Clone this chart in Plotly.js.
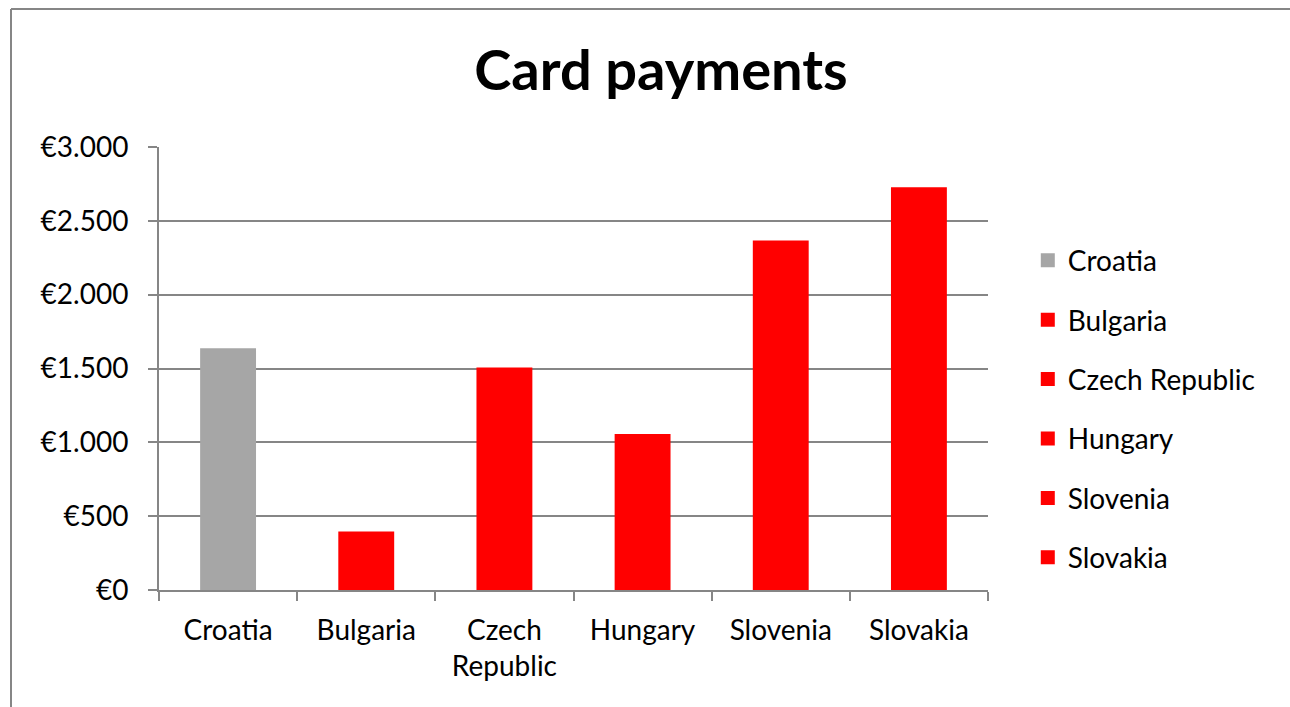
<!DOCTYPE html>
<html>
<head>
<meta charset="utf-8">
<script src="https://cdn.plot.ly/plotly-3.0.1.min.js"></script>
<style>html,body{margin:0;padding:0;background:#fff;}#chart{width:1290px;height:707px;}</style>
</head>
<body>
<div id="chart"></div>
<script>
const categories = ["Croatia", "Bulgaria", "Czech Republic", "Hungary", "Slovenia", "Slovakia"];
const tickLabels = ["Croatia", "Bulgaria", "Czech<br>Republic", "Hungary", "Slovenia", "Slovakia"];
const values = [1630, 390, 1500, 1050, 2360, 2720];
const colors = ["#a6a6a6", "#ff0000", "#ff0000", "#ff0000", "#ff0000", "#ff0000"];
const yTicks = [0, 500, 1000, 1500, 2000, 2500, 3000];
const yTickLabels = ["€0", "€500", "€1.000", "€1.500", "€2.000", "€2.500", "€3.000"];

const FONT = "Lato, 'Noto Sans', sans-serif";
const traces = categories.map((c, i) => ({
  type: "bar",
  name: c,
  x: [c],
  y: [values[i]],
  width: 0.39,
  legendgroup: "g" + i,
  marker: {color: colors[i], line: {color: colors[i], width: 2}},
  hoverinfo: "x+y"
}));

const plotW = 829, plotH = 443;
const layout = {
  width: 1290, height: 707,
  margin: {l: 159, r: 302, t: 147, b: 117},
  paper_bgcolor: "#fff", plot_bgcolor: "#fff",
  separators: ",.",
  barmode: "overlay",
  font: {family: FONT, size: 28, color: "#000"},
  title: {text: "<b>Card payments</b>", font: {family: FONT, size: 56, color: "#000"},
          x: 661 / 1290, xanchor: "center", y: 0.9, yanchor: "middle"},
  xaxis: {
    categoryorder: "array", categoryarray: categories,
    tickvals: categories, ticktext: tickLabels,
    tickson: "boundaries", ticks: "outside", ticklen: 9, tickcolor: "#868686", tickwidth: 2,
    ticklabelstandoff: 14,
    showline: true, linecolor: "#868686", linewidth: 2,
    showgrid: false, zeroline: false,
    tickfont: {family: FONT, size: 28, color: "#000"},
    fixedrange: true
  },
  yaxis: {
    range: [0, 3000], tickvals: yTicks, ticktext: yTickLabels,
    ticks: "outside", ticklen: 9, tickcolor: "#868686", tickwidth: 2,
    ticklabelstandoff: 14,
    showline: true, linecolor: "#868686", linewidth: 2,
    showgrid: true, gridcolor: "#868686", gridwidth: 2,
    zeroline: false,
    tickfont: {family: FONT, size: 28, color: "#000"},
    fixedrange: true
  },
  legend: {
    x: 1.048, xanchor: "left", y: 0.8, yanchor: "top",
    font: {family: FONT, size: 28, color: "#000"},
    tracegroupgap: 20, itemwidth: 30, bgcolor: "rgba(0,0,0,0)"
  },
  shapes: [
    {type: "line", xref: "paper", yref: "paper",
     x0: (11 - 159) / plotW, x1: (1300 - 159) / plotW,
     y0: (590 - 9) / plotH, y1: (590 - 9) / plotH,
     line: {color: "#868686", width: 2}},
    {type: "line", xref: "paper", yref: "paper",
     x0: (11 - 159) / plotW, x1: (11 - 159) / plotW,
     y0: (590 - 9) / plotH, y1: (590 - 720) / plotH,
     line: {color: "#868686", width: 2}}
  ],
  showlegend: true
};
Plotly.newPlot("chart", traces, layout, {displayModeBar: false, staticPlot: true});
</script>
</body>
</html>
